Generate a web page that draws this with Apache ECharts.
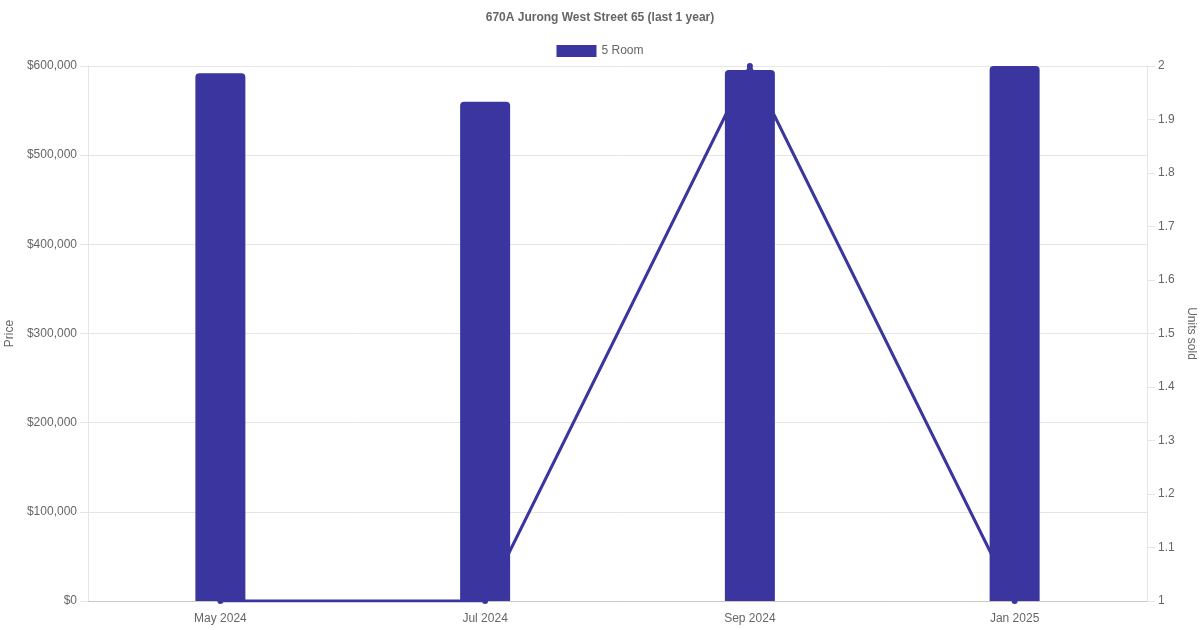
<!DOCTYPE html>
<html><head><meta charset="utf-8">
<script src="https://cdn.jsdelivr.net/npm/echarts@6/dist/echarts.min.js"></script>
<style>html,body{margin:0;padding:0;background:#fff}#c{width:1200px;height:630px}</style>
</head><body><div id="c"></div>
<script>
const categories = ['May 2024', 'Jul 2024', 'Sep 2024', 'Jan 2025'];
const priceValues = [592000, 560000, 595500, 600000];
const unitsSold = [1, 1, 2, 1];
const seriesName = '5 Room';
const titleText = '670A Jurong West Street 65 (last 1 year)';

const color = '#3a359f';
const font = "'Liberation Sans', Arial, Helvetica, sans-serif";
const chart = echarts.init(document.getElementById('c'), null, {renderer: 'canvas'});
chart.setOption({
  animation: false,
  textStyle: {fontFamily: font},
  title: {text: titleText, left: 'center', top: 7, textStyle: {fontSize: 12, fontWeight: 'bold', color: '#666', fontFamily: font}},
  legend: {top: 40, left: 'center', itemWidth: 40, itemHeight: 12, itemGap: 6,
    textStyle: {fontSize: 12, color: '#666', fontFamily: font},
    data: [{name: seriesName, icon: 'rect'}]},
  grid: {left: 88, right: 53, top: 66, bottom: 29, containLabel: false, outerBoundsMode: 'none'},
  xAxis: {type: 'category', data: categories,
    axisLine: {show: true, lineStyle: {color: '#c8c8c8', width: 1}},
    axisTick: {show: false},
    axisLabel: {color: '#666', fontSize: 12, margin: 12, fontFamily: font},
    splitLine: {show: false}},
  yAxis: [
    {type: 'value', min: 0, max: 600000, interval: 100000, position: 'left',
     name: 'Price', nameLocation: 'middle', nameGap: 65, nameRotate: 90,
     nameTextStyle: {color: '#666', fontSize: 12, fontFamily: font},
     axisLine: {show: true, lineStyle: {color: '#e5e5e5'}},
     axisTick: {show: true, length: 8, lineStyle: {color: '#e5e5e5'}},
     axisLabel: {color: '#666', fontSize: 12, margin: 11, fontFamily: font,
       formatter: v => '$' + v.toLocaleString('en-US')},
     splitLine: {show: true, lineStyle: {color: '#e5e5e5', width: 1}}},
    {type: 'value', min: 1, max: 2, interval: 0.1, position: 'right',
     name: 'Units sold', nameLocation: 'middle', nameGap: 35, nameRotate: -90,
     nameTextStyle: {color: '#666', fontSize: 12, fontFamily: font},
     axisLine: {show: true, lineStyle: {color: '#e5e5e5'}},
     axisTick: {show: true, length: 8, lineStyle: {color: '#e5e5e5'}},
     axisLabel: {color: '#666', fontSize: 12, margin: 11, fontFamily: font,
       formatter: v => String(Math.round(v * 10) / 10)},
     splitLine: {show: false}}
  ],
  series: [
    {name: seriesName, type: 'bar', data: priceValues, yAxisIndex: 0, barWidth: 50,
     itemStyle: {color: color, borderRadius: [4, 4, 0, 0]}, z: 2},
    {name: 'Units', type: 'line', data: unitsSold, yAxisIndex: 1,
     symbol: 'circle', symbolSize: 6, lineStyle: {color: color, width: 3},
     itemStyle: {color: color}, z: 3}
  ]
});
</script></body></html>
